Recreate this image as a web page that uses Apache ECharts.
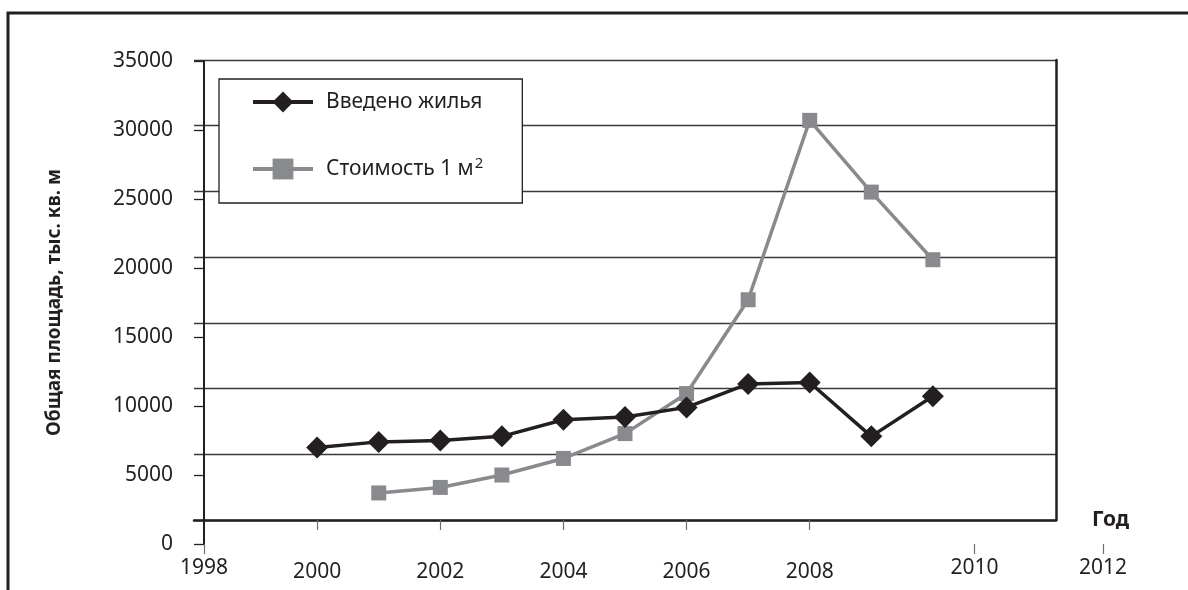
<!DOCTYPE html>
<html>
<head>
<meta charset="utf-8">
<script src="https://cdn.jsdelivr.net/npm/echarts@6/dist/echarts.min.js"></script>
<style>
  html, body { margin: 0; padding: 0; background: #fff; }
  #chart { width: 1188px; height: 590px; }
</style>
</head>
<body>
<div id="chart"></div>
<script>
// Housing commissioned vs. price per square metre
const years = [2000, 2001, 2002, 2003, 2004, 2005, 2006, 2007, 2008, 2009, 2010];
const housingBuilt = [7000, 7400, 7500, 7800, 9000, 9200, 9900, 11600, 11700, 7800, 10700];

const priceYears = [2001, 2002, 2003, 2004, 2005, 2006, 2007, 2008, 2009, 2010];
const pricePerM2 = [3700, 4100, 5000, 6200, 8000, 10900, 17700, 30700, 25500, 20600];

const yTicks = [0, 5000, 10000, 15000, 20000, 25000, 30000, 35000];
const innerYearTicks = [2000, 2002, 2004, 2006, 2008];
const outerYearTicks = [1998, 2010, 2012];

const seriesNames = ['Введено жилья', 'Стоимость 1 м2'];
const axisTitleY = 'Общая площадь, тыс. кв. м';
const axisTitleX = 'Год';

const FONT = 'Noto Sans';
const INK = '#231f20';
const GREY = '#898a8d';

const yMin = yTicks[0];
const yMax = yTicks[yTicks.length - 1];
const yStep = yTicks[1] - yTicks[0];
const xMin = outerYearTicks[0];
const xMax = outerYearTicks[outerYearTicks.length - 1];

// plain numbers, no thousands separators
const plain = v => String(v);

const chart = echarts.init(document.getElementById('chart'), null, { renderer: 'canvas' });

chart.setOption({
  backgroundColor: '#fff',
  animation: false,
  textStyle: { fontFamily: FONT, color: INK },
  graphic: [{
    type: 'polyline',
    shape: { points: [[8, 590], [8, 13], [1188, 13]] },
    style: { stroke: INK, lineWidth: 3, fill: null },
    silent: true
  }],
  grid: [
    // frame with horizontal rules
    { left: 194, right: 132, top: 60, bottom: 70 },
    // value scale and the plotted lines
    { left: 194, right: 132, top: 61, bottom: 46 },
    // outer year labels
    { left: 204, right: 85, top: 61, bottom: 46 }
  ],
  xAxis: [
    {
      gridIndex: 0, type: 'value', min: xMin, max: xMax, interval: 2,
      name: axisTitleX, nameLocation: 'end', nameGap: 36,
      nameTextStyle: { fontFamily: FONT, fontWeight: 'bold', fontSize: 21, color: INK, padding: [10, 0, 0, 0] },
      axisLine: { show: true, lineStyle: { color: INK, width: 2.5 } },
      axisTick: { show: true, customValues: innerYearTicks, length: 10, inside: false, lineStyle: { color: '#6d6e70', width: 1.2 } },
      axisLabel: { show: true, customValues: innerYearTicks, formatter: plain, margin: 42, fontSize: 21, color: INK, fontFamily: FONT },
      splitLine: { show: false }
    },
    {
      gridIndex: 1, type: 'value', min: xMin, max: xMax,
      show: false
    },
    {
      gridIndex: 2, type: 'value', min: xMin, max: xMax, interval: 2,
      axisLine: { show: false },
      axisTick: { show: true, customValues: outerYearTicks, length: 10, lineStyle: { color: '#6d6e70', width: 1.2 } },
      axisLabel: { show: true, customValues: outerYearTicks, formatter: plain, margin: 14, fontSize: 21, color: INK, fontFamily: FONT },
      splitLine: { show: false }
    }
  ],
  yAxis: [
    {
      gridIndex: 0, type: 'value', min: yMin, max: yMax, interval: yStep, position: 'right',
      axisLine: { show: true, lineStyle: { color: INK, width: 2.5 } },
      axisTick: { show: false },
      axisLabel: { show: false },
      splitLine: { show: true, lineStyle: { color: '#3a3a3a', width: 1.3 } }
    },
    {
      gridIndex: 1, type: 'value', min: yMin, max: yMax, interval: yStep, offset: -10,
      name: axisTitleY, nameLocation: 'middle', nameGap: 140, nameRotate: 90,
      nameTextStyle: { fontFamily: FONT, fontWeight: 'bold', fontSize: 19, color: INK },
      axisLine: { show: true, lineStyle: { color: INK, width: 2 } },
      axisTick: { show: true, length: 10, lineStyle: { color: INK, width: 1.3 } },
      axisLabel: { show: true, formatter: plain, margin: 31, fontSize: 21, color: INK, fontFamily: FONT, padding: [16, 0, 0, 0] },
      splitLine: { show: false }
    },
    {
      gridIndex: 2, type: 'value', min: yMin, max: yMax, show: false
    }
  ],
  legend: {
    show: true,
    orient: 'vertical',
    left: 219, top: 79,
    padding: [10, 39, 21, 32],
    itemGap: 41,
    itemWidth: 60, itemHeight: 26,
    itemTextGap: 15,
    backgroundColor: '#fff',
    borderColor: INK, borderWidth: 1.3, borderRadius: 0,
    data: seriesNames,
    lineStyle: { width: 4 },
    formatter: name => name === seriesNames[1] ? 'Стоимость 1 м{sup|2}' : name,
    textStyle: {
      fontFamily: FONT, fontSize: 21, color: INK, lineHeight: 26,
      padding: [0, 0, 0, 8],
      rich: {
        sup: { fontFamily: FONT, fontSize: 15, color: INK, verticalAlign: 'top', lineHeight: 15, padding: [0, 0, 10, 1] }
      }
    },
    z: 10
  },
  series: [
    {
      name: seriesNames[0],
      type: 'line',
      xAxisIndex: 1, yAxisIndex: 1,
      data: years.map((y, i) => [y, housingBuilt[i]]),
      symbol: 'diamond', symbolSize: 22,
      lineStyle: { color: INK, width: 3.5 },
      itemStyle: { color: INK },
      z: 4
    },
    {
      name: seriesNames[1],
      type: 'line',
      xAxisIndex: 1, yAxisIndex: 1,
      data: priceYears.map((y, i) => [y, pricePerM2[i]]),
      symbol: 'rect', symbolSize: 15,
      lineStyle: { color: GREY, width: 3.5 },
      itemStyle: { color: GREY },
      z: 3
    }
  ]
});
</script>
</body>
</html>
